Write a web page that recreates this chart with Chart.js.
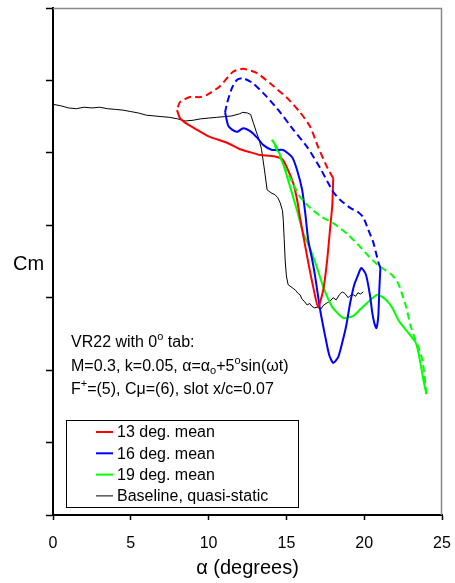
<!DOCTYPE html>
<html>
<head>
<meta charset="utf-8">
<script src="https://cdn.jsdelivr.net/npm/chart.js@4"></script>
<style>
  html, body { margin: 0; padding: 0; background: #fff; }
  #wrap { width: 455px; height: 583px; }
</style>
</head>
<body>
<div id="wrap"><canvas id="grafico" width="455" height="583"></canvas></div>
<script>
// baseline, quasi-static
const baseA = [0, 0.5, 1, 1.5, 2, 2.5, 3, 3.5, 4, 4.5, 5, 5.5, 6, 6.5, 7, 7.5, 8, 8.5, 9, 9.5, 10, 10.5, 11, 11.5, 12, 12.2, 12.5, 12.7, 12.9, 13.05, 13.25, 13.4, 13.5, 13.6, 13.76, 14.0, 14.28, 14.45, 14.6, 14.75, 14.8, 14.86, 14.92, 15.0, 15.11, 15.3, 15.43, 15.6, 15.75, 15.88, 16.0, 16.15, 16.33, 16.5, 16.65, 16.8, 17.0, 17.2, 17.4, 17.62, 17.8, 18.0, 18.2, 18.4, 18.59, 18.75, 18.97, 19.1, 19.3, 19.45, 19.6, 19.75, 19.94];
const baseCm = [5.67, 5.65, 5.62, 5.61, 5.63, 5.62, 5.63, 5.61, 5.60, 5.59, 5.57, 5.55, 5.52, 5.51, 5.50, 5.49, 5.47, 5.44, 5.45, 5.47, 5.48, 5.49, 5.50, 5.51, 5.54, 5.56, 5.55, 5.53, 5.40, 5.30, 5.18, 5.05, 4.90, 4.75, 4.49, 4.45, 4.42, 4.38, 4.31, 4.20, 4.07, 3.80, 3.52, 3.30, 3.18, 3.15, 3.13, 3.10, 3.06, 3.04, 2.98, 2.95, 2.90, 2.92, 2.88, 2.86, 2.87, 2.84, 2.90, 2.93, 2.95, 3.00, 2.97, 3.04, 3.08, 3.06, 3.00, 3.03, 3.04, 3.02, 3.07, 3.05, 3.08];

// 13 deg. mean : upstroke (solid) and downstroke (dashed)
const a13Up = [7.97, 8.16, 8.61, 9.25, 10.09, 11.18, 12.02, 12.66, 13.30, 13.95, 14.47, 14.79, 15.11, 15.44, 15.69, 15.88, 16.34, 16.72, 17.04, 17.37, 17.62, 17.82, 17.95, 18.01];
const cm13Up = [5.59, 5.48, 5.40, 5.32, 5.22, 5.14, 5.05, 5.01, 4.97, 4.96, 4.94, 4.90, 4.76, 4.58, 4.35, 4.10, 3.56, 3.15, 2.87, 3.11, 3.52, 3.98, 4.28, 4.65];
const a13Dn = [18.01, 17.62, 17.04, 16.53, 15.88, 15.04, 13.95, 13.12, 12.22, 11.57, 10.73, 9.90, 9.45, 8.80, 8.16, 7.97];
const cm13Dn = [4.65, 4.80, 5.08, 5.36, 5.56, 5.76, 5.96, 6.10, 6.16, 6.12, 5.92, 5.80, 5.77, 5.77, 5.70, 5.59];

// 16 deg. mean
const a16Up = [11.06, 11.25, 11.51, 11.83, 12.22, 12.67, 13.12, 13.50, 14.08, 14.79, 15.37, 15.69, 16.01, 16.21, 16.40, 16.66, 16.85, 17.17, 17.50, 17.75, 18.01, 18.33, 18.59, 18.85, 19.10, 19.36, 19.56, 19.81, 20.07, 20.20, 20.39, 20.52, 20.65, 20.78, 20.91, 20.97, 21.04];
const cm16Up = [5.56, 5.38, 5.32, 5.29, 5.34, 5.30, 5.21, 5.11, 5.04, 5.04, 4.94, 4.76, 4.49, 4.17, 3.80, 3.52, 3.29, 2.83, 2.46, 2.21, 2.10, 2.18, 2.38, 2.62, 2.93, 3.18, 3.29, 3.41, 3.34, 3.24, 3.01, 2.79, 2.65, 2.58, 2.76, 3.11, 3.41];
const a16Dn = [21.04, 20.91, 20.59, 20.26, 19.94, 19.62, 19.10, 18.46, 18.01, 17.17, 16.34, 15.44, 14.60, 13.76, 12.86, 12.22, 11.83, 11.51, 11.19, 11.06];
const cm16Dn = [3.41, 3.49, 3.76, 3.94, 4.11, 4.18, 4.24, 4.35, 4.46, 4.79, 5.08, 5.32, 5.56, 5.77, 5.96, 6.03, 6.01, 5.90, 5.69, 5.56];

// 19 deg. mean
const a19Up = [14.08, 14.34, 14.60, 14.92, 15.24, 15.69, 16.08, 16.34, 16.85, 17.37, 17.95, 18.66, 19.30, 19.75, 20.20, 20.84, 21.36, 21.81, 22.20, 22.78, 23.29, 23.48, 23.61, 23.81, 24.00];
const cm19Up = [5.18, 5.09, 4.97, 4.76, 4.53, 4.20, 3.89, 3.77, 3.49, 3.15, 2.87, 2.72, 2.75, 2.84, 2.93, 3.04, 2.98, 2.86, 2.69, 2.53, 2.39, 2.25, 2.10, 1.86, 1.67];
const a19Dn = [24.00, 23.87, 23.74, 23.48, 23.29, 22.97, 22.71, 22.45, 22.20, 21.81, 21.36, 20.78, 20.26, 19.75, 18.91, 18.01, 17.30, 16.53, 15.88, 15.37, 14.92, 14.47, 14.08];
const cm19Dn = [1.67, 1.93, 2.14, 2.32, 2.42, 2.62, 2.86, 3.04, 3.19, 3.31, 3.38, 3.47, 3.58, 3.70, 3.88, 4.03, 4.11, 4.24, 4.39, 4.60, 4.79, 5.00, 5.18];

const xTicks = [0, 5, 10, 15, 20, 25];
const legendLabels = ["13 deg. mean", "16 deg. mean", "19 deg. mean", "Baseline, quasi-static"];
const legendColors = ["#ff0000", "#0000ff", "#00ff00", "#000000"];

const fonte = "'Liberation Sans', Arial, sans-serif";

function pts(a, c) {
  return a.map((v, i) => ({ x: v, y: c[i] }));
}

function serie(a, c, cor, tracejado) {
  return {
    data: pts(a, c),
    borderColor: cor,
    borderWidth: 2,
    borderDash: tracejado ? [7, 4] : [],
    showLine: true,
    pointRadius: 0,
    tension: 0.2,
    fill: false,
  };
}

const datasets = [
  serie(a13Dn, cm13Dn, legendColors[0], true),
  serie(a16Dn, cm16Dn, legendColors[1], true),
  serie(a19Dn, cm19Dn, legendColors[2], true),
  serie(a13Up, cm13Up, legendColors[0], false),
  serie(a16Up, cm16Up, legendColors[1], false),
  serie(a19Up, cm19Up, legendColors[2], false),
  { data: pts(baseA, baseCm), borderColor: "#000", borderWidth: 1, showLine: true, pointRadius: 0, tension: 0 },
];

// texto com sobrescrito / subscrito
function runs(ctx, x, y, partes) {
  for (const p of partes) {
    let size = 16, dy = 0;
    if (p.sup) { size = 11; dy = -6; }
    if (p.sub) { size = 11; dy = 4; }
    ctx.font = size + "px " + fonte;
    ctx.fillText(p.t, x, y + dy);
    x += ctx.measureText(p.t).width;
  }
}

const extras = {
  id: "extras",
  beforeDatasetsDraw(chart) {
    const { ctx, chartArea: ca } = chart;
    ctx.save();
    ctx.strokeStyle = "#888";
    ctx.lineWidth = 1.5;
    ctx.beginPath();
    ctx.moveTo(ca.left, ca.top + 0.5);
    ctx.lineTo(ca.right - 0.5, ca.top + 0.5);
    ctx.lineTo(ca.right - 0.5, ca.bottom);
    ctx.stroke();
    ctx.restore();
  },
  afterDraw(chart) {
    const ctx = chart.ctx;
    ctx.save();
    ctx.fillStyle = "#000";
    ctx.textBaseline = "middle";
    ctx.textAlign = "left";

    // Cm
    ctx.font = "20px " + fonte;
    ctx.fillText("Cm", 13, 264);

    // anotacao
    runs(ctx, 71, 343, [{ t: "VR22 with 0" }, { t: "o", sup: true }, { t: " tab:" }]);
    runs(ctx, 71, 367, [{ t: "M=0.3, k=0.05, α=α" }, { t: "o", sub: true }, { t: "+5" }, { t: "o", sup: true }, { t: "sin(ωt)" }]);
    runs(ctx, 71, 390, [{ t: "F" }, { t: "+", sup: true }, { t: "=(5), Cμ=(6), slot x/c=0.07" }]);

    // legenda
    ctx.fillStyle = "#fff";
    ctx.fillRect(66, 420, 232, 87);
    ctx.strokeStyle = "#000";
    ctx.lineWidth = 1;
    ctx.strokeRect(66.5, 420.5, 232, 87);
    ctx.font = "16px " + fonte;
    legendLabels.forEach((lab, i) => {
      const y = 432 + i * 21.3;
      ctx.strokeStyle = legendColors[i];
      ctx.lineWidth = i === 3 ? 1 : 2;
      ctx.beginPath();
      ctx.moveTo(96, y);
      ctx.lineTo(113, y);
      ctx.stroke();
      ctx.fillStyle = "#000";
      ctx.fillText(lab, 117, y + 1);
    });
    ctx.restore();
  },
};

const ctx = document.getElementById("grafico");

new Chart(ctx, {
  type: "scatter",
  data: { datasets: datasets },
  options: {
    responsive: false,
    animation: false,
    layout: { padding: { top: 8, right: 13, left: 0, bottom: 0 } },
    plugins: {
      legend: { display: false },
      tooltip: { enabled: false },
    },
    scales: {
      x: {
        type: "linear",
        min: 0,
        max: 25,
        afterBuildTicks: (axis) => { axis.ticks = xTicks.map(v => ({ value: v })); },
        afterFit: (axis) => {
          axis.height = 68;
          axis.paddingLeft = 0;
          axis.paddingRight = 0;
        },
        ticks: { color: "#000", font: { size: 16, family: fonte }, padding: 14, maxRotation: 0 },
        grid: { drawOnChartArea: false, tickLength: 5, color: "#000", tickWidth: 1.5 },
        border: { color: "#000", width: 2 },
        title: { display: true, text: "α (degrees)", color: "#000", font: { size: 20, family: fonte }, padding: { top: 0, bottom: 3 } },
      },
      y: {
        type: "linear",
        min: 0,
        max: 7,
        ticks: { stepSize: 1, callback: () => "", padding: 0 },
        afterFit: (axis) => {
          axis.width = 53;
          axis.paddingTop = 0;
          axis.paddingBottom = 0;
        },
        grid: { drawOnChartArea: false, tickLength: 7, color: "#000", tickWidth: 1.5 },
        border: { color: "#000", width: 2 },
      },
    },
  },
  plugins: [extras],
});
</script>
</body>
</html>
